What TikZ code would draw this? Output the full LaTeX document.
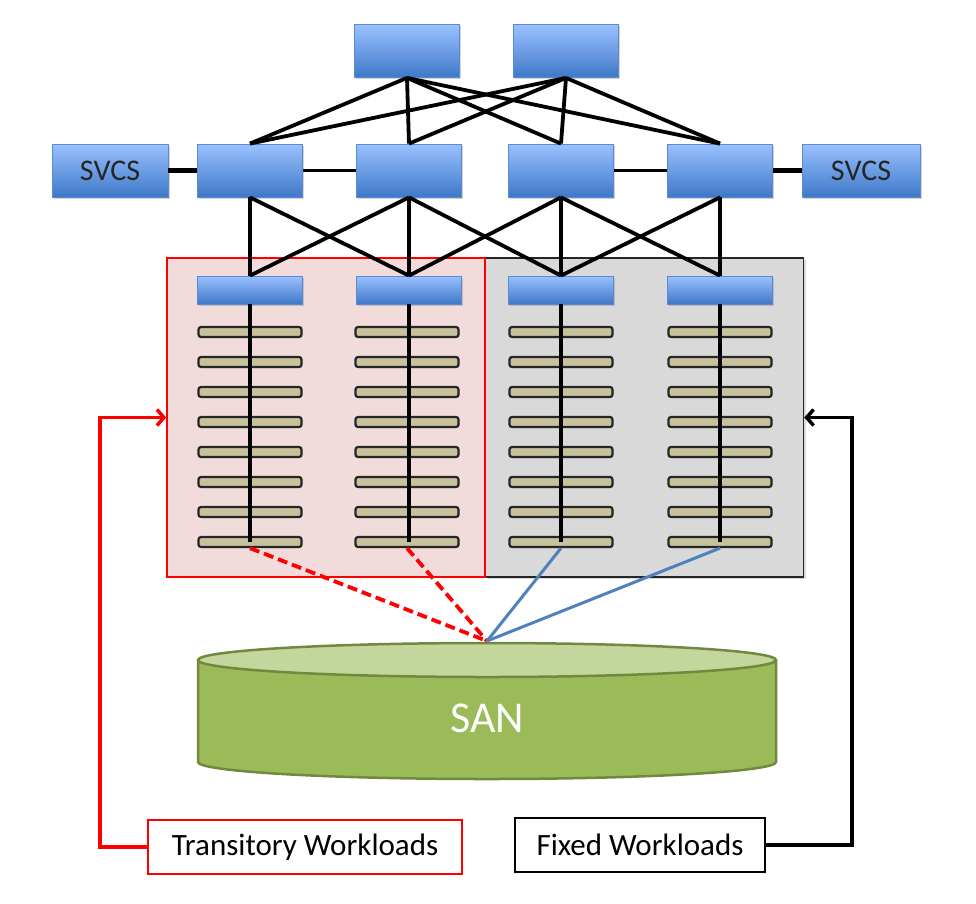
\documentclass[tikz,border=0pt]{standalone}
\usepackage{fontspec}
\setmainfont{Carlito}
\usetikzlibrary{shadows,arrows.meta,calc}
\definecolor{swtop}{RGB}{155,193,255}
\definecolor{swbot}{RGB}{62,120,200}
\definecolor{swborder}{RGB}{90,138,210}
\definecolor{tan}{RGB}{200,194,156}
\definecolor{redfill}{RGB}{242,220,219}
\definecolor{grayfill}{RGB}{217,217,217}
\definecolor{sanbody}{RGB}{155,187,89}
\definecolor{santop}{RGB}{195,214,155}
\definecolor{sanborder}{RGB}{113,137,63}
\definecolor{linkblue}{RGB}{79,129,189}
\tikzset{
  sw/.style={draw=swborder, line width=0.8pt, top color=swtop, bottom color=swbot,
    minimum width=105pt, minimum height=53pt, inner sep=0pt,
    drop shadow={shadow xshift=1.5pt, shadow yshift=-1.5pt, opacity=0.35},
    font=\fontsize{30}{36}\selectfont, text=black!85},
  tor/.style={sw, minimum height=28pt},
  srv/.style={draw=black!85, line width=2.2pt, fill=tan, rounded corners=2.5pt,
    minimum width=103pt, minimum height=10pt, inner sep=0pt,
    drop shadow={shadow xshift=1pt, shadow yshift=-1pt, opacity=0.3}},
  link/.style={line width=3.8pt, black},
  thicklink/.style={line width=5pt, black},
  region/.style={line width=1.5pt, minimum width=318pt, minimum height=319pt, inner sep=0pt},
  wl/.style={line width=1.5pt, fill=white, minimum height=54pt, inner sep=0pt,
    font=\fontsize{31}{37}\selectfont},
  redlink/.style={line width=3.8pt, red, dash pattern=on 10pt off 5pt},
  bluelink/.style={line width=3pt, linkblue},
  arr/.style={line width=3.8pt, -{Straight Barb[length=7pt,width=16pt,line width=3.5pt]}}
}
\begin{document}
\begin{tikzpicture}[x=1pt,y=1pt]
\useasboundingbox (0,0) rectangle (976,-903);

% regions
\node[region, draw=black!85, fill=grayfill,
  drop shadow={shadow xshift=2pt, shadow yshift=-2pt, opacity=0.3}] (fz) at (644.5,-417.5) {};
\node[region, draw=red, fill=redfill] (tz) at (326,-417.5) {};

% top switches
\node[sw] (t1) at (407,-51) {};
\node[sw] (t2) at (566,-51) {};

% middle row
\node[sw, minimum width=116pt] (svl) at (110,-170.5) {SVCS};
\node[sw] (m1) at (250,-170.5) {};
\node[sw] (m2) at (409,-170.5) {};
\node[sw] (m3) at (561,-170.5) {};
\node[sw] (m4) at (720,-170.5) {};
\node[sw, minimum width=118pt] (svr) at (861,-170.5) {SVCS};

% rack switches
\node[tor] (r1) at (250,-290) {};
\node[tor] (r2) at (409,-290) {};
\node[tor] (r3) at (561,-290) {};
\node[tor] (r4) at (720,-290) {};

% servers
\foreach \r/\x in {1/250,2/407,3/561,4/720}{
  \foreach \k in {1,...,8}{
    \node[srv] (s\r-\k) at (\x,{-332-30*(\k-1)}) {};
  }
}

% rack vertical lines
\foreach \r in {1,...,4}{
  \draw[link] (r\r.south) -- (r\r.south |- s\r-8.center);
}

% links top to middle
\foreach \t in {t1,t2}{
  \foreach \m in {m1,m2,m3,m4}{
    \draw[link] (\t.south) -- (\m.north);
  }
}
% horizontal links
\draw[thicklink] (svl.east) -- (m1.west);
\draw[link] (m1.east) -- (m2.west);
\draw[link] (m3.east) -- (m4.west);
\draw[thicklink] (m4.east) -- (svr.west);

% middle to rack
\draw[link] (m1.south) -- (r1.north);
\draw[link] (m1.south) -- (r2.north);
\draw[link] (m2.south) -- (r1.north);
\draw[link] (m2.south) -- (r2.north);
\draw[link] (m2.south) -- (r3.north);
\draw[link] (m3.south) -- (r2.north);
\draw[link] (m3.south) -- (r3.north);
\draw[link] (m3.south) -- (r4.north);
\draw[link] (m4.south) -- (r3.north);
\draw[link] (m4.south) -- (r4.north);

% SAN cylinder
\fill[sanbody] (198,-660) -- (198,-762) arc[start angle=180, end angle=360, x radius=289, y radius=17] -- (776,-660) -- cycle;
\draw[sanborder, line width=2.5pt] (198,-660) -- (198,-762) arc[start angle=180, end angle=360, x radius=289, y radius=17] -- (776,-660);
\draw[sanborder, line width=2.5pt, fill=santop] (487,-660) ellipse [x radius=289, y radius=17];
\node[text=white, font=\fontsize{44}{50}\selectfont] (san) at (487,-718) {SAN};
\coordinate (sanp) at (487,-641);

% storage links
\draw[redlink] (s1-8.south) -- (sanp);
\draw[redlink] (s2-8.south) -- (sanp);
\draw[bluelink] (s3-8.south) -- (sanp);
\draw[bluelink] (s4-8.south) -- (sanp);

% workload labels
\node[wl, draw=red, minimum width=314pt] (tw) at (305,-847) {Transitory Workloads};
\node[wl, draw=black, minimum width=250pt] (fw) at (640,-845) {Fixed Workloads};
\draw[arr, red] (tw.west) -- ++(-47,0) |- (tz.west);
\draw[arr, black] (fw.east) -- ++(86,0) |- (fz.east);
\end{tikzpicture}
\end{document}
